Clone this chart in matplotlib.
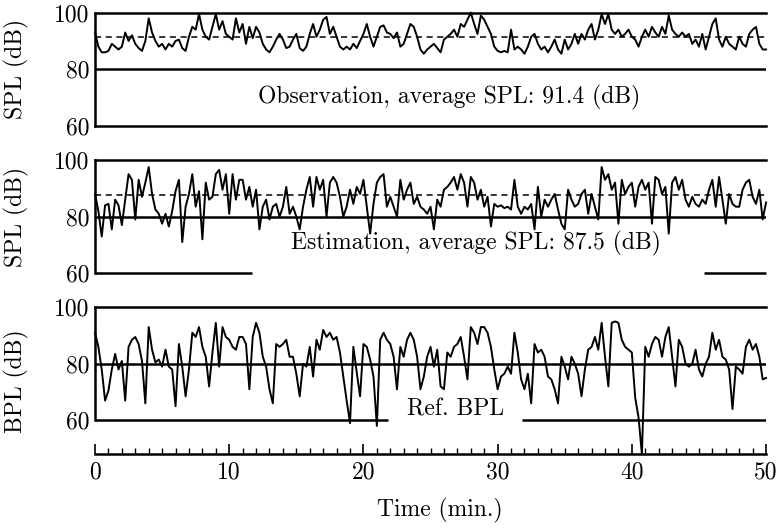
import matplotlib
matplotlib.use("Agg")
import matplotlib.pyplot as plt
import numpy as np

plt.rcParams["font.family"] = ["cmr10", "DejaVu Serif"]
plt.rcParams["axes.formatter.use_mathtext"] = True

# time axis (min.), one sample every 15 s
t = np.arange(0, 50.01, 0.25)

obs_spl = [
    93, 88, 86, 86, 86.5, 89, 88, 87, 88, 93, 90, 92, 89, 87.5, 86.5, 90,
    98, 93, 90, 88, 89, 87, 89, 88, 90, 90.5, 87.5, 86.5, 91.5, 95, 94, 99.5,
    94, 91.5, 90.5, 95, 99.5, 94, 97, 92.5, 91.5, 90.5, 98, 93, 96, 89, 95, 91,
    95, 93, 89, 87, 86, 88, 90.5, 92.5, 90.5, 87.5, 88, 90.5, 92.5, 87.5, 86.5, 88,
    92.5, 96, 91.5, 94, 97.5, 98.5, 92.5, 95, 91.5, 88, 87, 88, 87, 89, 87.5, 90,
    92.5, 96, 91.5, 88, 91.5, 95, 95.5, 93, 92.5, 91, 93, 88, 89, 92.5, 96, 95,
    91.5, 87, 85.5, 87, 88, 89, 87.5, 86, 90.5, 91.5, 92.5, 94, 91.5, 96, 95, 97.5,
    100, 96, 92.5, 99, 97.5, 95, 92.5, 88, 86.5, 86, 86.5, 86, 94, 87, 88, 87,
    85.5, 88, 91.5, 92.5, 89, 87, 88, 86, 88, 90.5, 87, 85.5, 90.5, 87, 89, 92.5,
    89, 92.5, 90.5, 94, 96, 90.5, 94, 99.5, 96, 99.5, 94, 92.5, 94, 91.5, 92.5, 94,
    91.5, 90.5, 88, 91.5, 94, 91.5, 95, 93, 91.5, 95, 92.5, 99, 94, 92.5, 91.5, 93,
    91.5, 92.5, 89, 90.5, 88, 92.5, 87, 91.5, 96, 98, 90.5, 88, 91.5, 89, 88, 87,
    91.5, 89, 88, 92.5, 94, 95, 89, 87, 87,
]

est_spl = [
    88, 82, 73, 84, 84.5, 75.5, 86, 84, 77, 86, 95, 93, 79, 93, 87, 92,
    97.5, 88, 82.5, 81, 77.5, 81, 76.5, 82, 89, 93, 71, 83.5, 88, 95, 83.5, 89,
    72, 92, 86, 87, 95, 96.5, 89.5, 95, 81, 95, 86, 93, 93, 86, 90.5, 83.5,
    89.5, 75.5, 83.5, 86, 79, 83.5, 84.5, 80, 83.5, 90.5, 81, 83.5, 80, 75.5, 83.5, 89.5,
    94, 83.5, 94, 89.5, 93, 80, 92, 94, 92, 87, 80, 83.5, 89.5, 84.5, 90.5, 88,
    93, 83.5, 74, 84.5, 92, 94, 95, 83.5, 87, 83.5, 80, 93, 86, 89.5, 92, 84.5,
    87, 83.5, 82.5, 81, 83.5, 75.5, 86, 83.5, 89.5, 90.5, 92, 94, 89.5, 95, 92, 83.5,
    94, 92, 86, 89.5, 83.5, 87, 76.5, 84.5, 83.5, 84, 83, 83.5, 82.5, 93, 83.5, 81,
    83.5, 82.5, 84.5, 75.5, 90.5, 80, 86, 83.5, 86, 88, 82.5, 77.5, 75.5, 89.5, 86, 83.5,
    84.5, 88, 89.5, 81, 88, 83.5, 79, 97.5, 93, 95, 89.5, 92, 77.5, 93, 88, 90.5,
    92, 83.5, 90.5, 93, 89.5, 92, 77.5, 94, 93, 88, 90.5, 74, 92, 94, 89.5, 93,
    86, 83.5, 87, 84.5, 83.5, 86, 84.5, 89.5, 93, 83.5, 94, 86, 77.5, 88, 84.5, 83.5,
    83.5, 89.5, 92, 93, 87, 84.5, 89.5, 79, 85,
]

bpl = [
    91, 86, 78, 67, 70.5, 78, 83.5, 78, 81, 67, 86, 88.5, 89.5, 87, 81, 66,
    93, 85, 80.5, 81.5, 79, 85, 79, 78, 65, 87, 79, 68.5, 78, 91, 89.5, 93,
    86, 82.5, 72, 84, 94.5, 79, 93, 89.5, 88.5, 86, 85, 89.5, 89.5, 87, 71, 89.5,
    94.5, 91, 82.5, 79, 71, 66, 87, 86, 87, 88.5, 82.5, 82.5, 76.5, 68.5, 80, 79,
    86, 75.5, 88.5, 85, 92, 89.5, 91, 88.5, 89.5, 84, 75.5, 67, 59, 86, 77, 68.5,
    87, 86, 81.5, 75.5, 58, 88.5, 91, 88.5, 87, 82.5, 71, 86, 82.5, 88.5, 91, 88.5,
    82.5, 71, 75.5, 82.5, 86, 79, 85, 72, 71, 84, 82.5, 86, 87, 89.5, 82.5, 74.5,
    93, 91, 87, 93, 93, 91, 86, 78, 71, 75.5, 76.5, 79, 76.5, 91, 84, 74.5,
    71, 76.5, 66, 87, 84, 85, 82.5, 75.5, 74.5, 71, 66, 82.5, 79, 74.5, 82.5, 80,
    76.5, 68.5, 78, 85, 86, 89.5, 85, 94.5, 82.5, 72, 94.5, 95, 94.5, 88.5, 86, 85,
    84, 68, 61, 48, 86, 82.5, 87, 89.5, 88.5, 82.5, 89.5, 93, 82.5, 72, 88.5, 86,
    80, 79, 80, 85, 78, 75.5, 80, 82.5, 91, 85, 88.5, 82.5, 81.5, 78, 64, 79,
    78, 76.5, 86, 88.5, 85, 87, 82.5, 74.5, 75,
]

obs_avg = 91.4
est_avg = 87.5
ref_level = 80

fig = plt.figure(figsize=(7.84, 5.32), dpi=100)
L, W = 0.1212, 0.8559
ax1 = fig.add_axes([L, 0.7632, W, 0.213])
ax2 = fig.add_axes([L, 0.4863, W, 0.213])
ax3 = fig.add_axes([L, 0.1461, W, 0.2763])

fs = 17
hlw = 1.8
panels = [
    (ax1, obs_spl, "SPL (dB)", obs_avg),
    (ax2, est_spl, "SPL (dB)", est_avg),
    (ax3, bpl, "BPL (dB)", None),
]
for ax, y, lab, avg in panels:
    ax.plot(t, y, color="black", lw=1.4, clip_on=False, zorder=3)
    ax.set_xlim(0, 50)
    for s in ["top", "right", "bottom"]:
        ax.spines[s].set_visible(False)
    ax.spines["left"].set_bounds(60, 100)
    ax.spines["left"].set_linewidth(hlw)
    ax.axhline(100, color="black", lw=hlw, clip_on=False)
    ax.axhline(ref_level, color="black", lw=hlw)
    if avg is not None:
        ax.axhline(avg, color="black", lw=1.1, ls=(0, (4, 3)))
    ax.set_yticks([60, 80, 100])
    ax.set_yticklabels(["60", "80", "100"], fontsize=fs)
    ax.tick_params(axis="y", length=0, pad=4)
    ax.set_ylabel(lab, fontsize=fs)
    ax.yaxis.set_label_coords(-0.098, 0.5)

ax1.set_ylim(60, 100)
ax2.set_ylim(60, 100)
ax3.set_ylim(48, 100)

# lower reference lines, broken around the captions
ax1.axhline(60, color="black", lw=hlw, clip_on=False)
ax2.hlines(60, 0, 11.7, color="black", lw=hlw, clip_on=False)
ax2.hlines(60, 45.4, 50, color="black", lw=hlw, clip_on=False)
ax3.hlines(60, 0, 21.8, color="black", lw=hlw)
ax3.hlines(60, 31.8, 50, color="black", lw=hlw)

ax1.text(26.4, 70, "Observation, average SPL: 91.4 (dB)", fontsize=fs,
         ha="center", va="center")
ax2.text(28.4, 70.4, "Estimation, average SPL: 87.5 (dB)", fontsize=fs,
         ha="center", va="center")
ax3.text(26.9, 63.7, "Ref. BPL", fontsize=fs, ha="center", va="center")

for ax in (ax1, ax2):
    ax.set_xticks([])

ax3.spines["bottom"].set_visible(True)
ax3.spines["bottom"].set_linewidth(hlw)
ax3.set_xticks(np.arange(0, 51, 10))
ax3.set_xticks(np.arange(0, 51, 1), minor=True)
ax3.set_xticklabels([str(v) for v in range(0, 51, 10)], fontsize=fs)
ax3.tick_params(axis="x", which="major", direction="in", length=7, width=1.2, pad=5)
ax3.tick_params(axis="x", which="minor", direction="in", length=4, width=1.0)

fig.text(0.561, 0.041, "Time (min.)", fontsize=fs, ha="center", va="center")

fig.savefig("out.png", dpi=100)
